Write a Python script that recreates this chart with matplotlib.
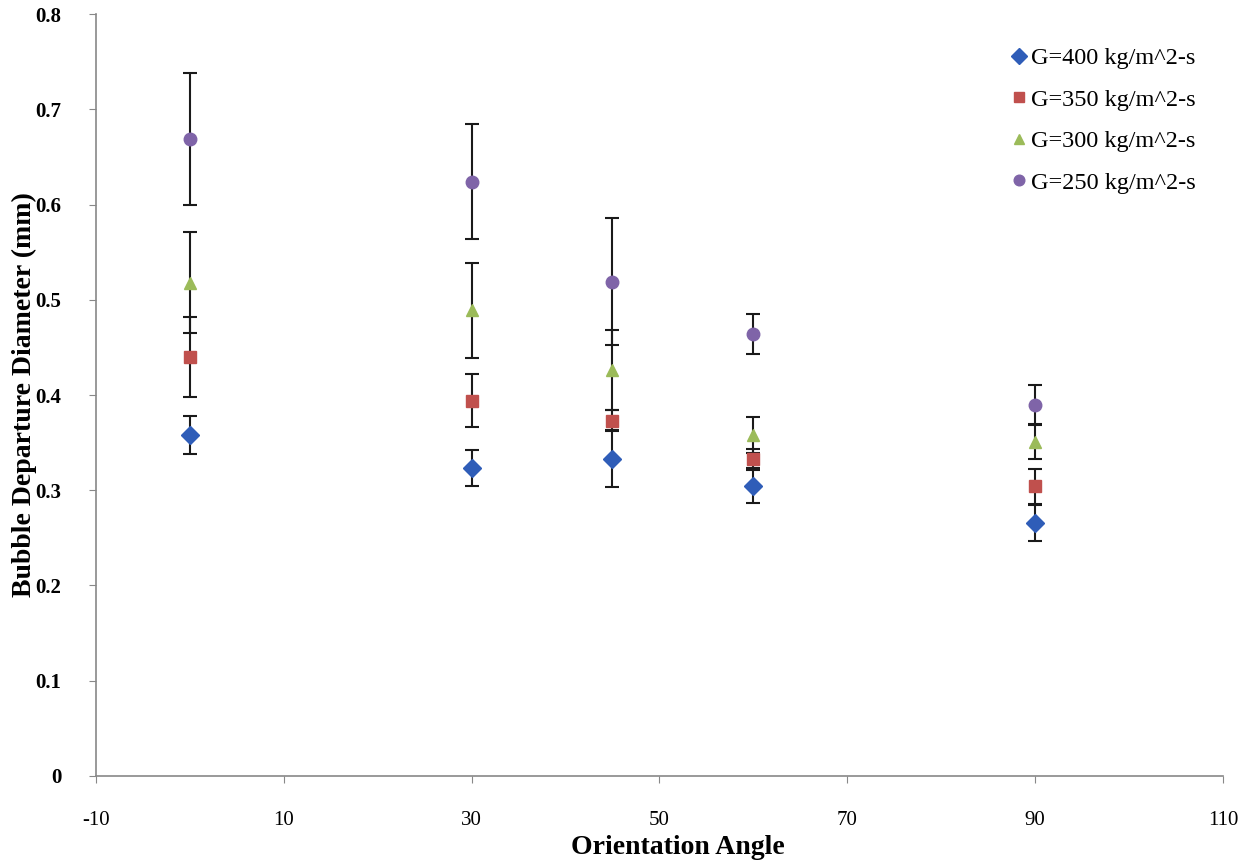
import numpy as np
import matplotlib.pyplot as plt
from matplotlib.lines import Line2D

angles = [0, 30, 45, 60, 90]

labels = ["G=400 kg/m^2-s", "G=350 kg/m^2-s", "G=300 kg/m^2-s", "G=250 kg/m^2-s"]

d400 = [0.358, 0.323, 0.333, 0.304, 0.266]
e400 = [0.020, 0.019, 0.030, 0.017, 0.019]

d350 = [0.440, 0.394, 0.373, 0.333, 0.304]
e350 = [0.042, 0.028, 0.011, 0.010, 0.018]

d300 = [0.518, 0.489, 0.426, 0.358, 0.351]
e300 = [0.053, 0.050, 0.042, 0.019, 0.018]

d250 = [0.669, 0.624, 0.519, 0.464, 0.390]
e250 = [0.069, 0.060, 0.067, 0.021, 0.020]

series = [(d400, e400, "D", "#2F5DB8", 9),
          (d350, e350, "s", "#C0504D", 8.5),
          (d300, e300, "^", "#9BBB59", 9),
          (d250, e250, "o", "#7F64A8", 9)]

plt.rcParams['font.family'] = ['Liberation Serif', 'DejaVu Serif']
plt.rcParams['axes.unicode_minus'] = False

fig = plt.figure(figsize=(12.46, 8.65), dpi=100)
ax = fig.add_axes([0.077, 0.1029, 0.9045, 0.8809])

handles = []
for (vals, errs, mk, col, ms), lab in zip(series, labels):
    ax.errorbar(angles, vals, yerr=errs, fmt=mk, color=col, markersize=ms,
                ecolor="#1a1a1a", elinewidth=1.5, capsize=5, capthick=1.5,
                zorder=3)
    handles.append(Line2D([], [], linestyle="none", marker=mk, color=col,
                          markersize=ms * 0.85, label=lab))

ax.set_xlim(-10, 110)
ax.set_ylim(0, 0.8)
ax.set_xticks(np.arange(-10, 111, 20))
ax.set_yticks(np.arange(0, 0.81, 0.1))
ax.set_yticklabels(["0"] + [f"{v:.1f}" for v in np.arange(0.1, 0.81, 0.1)])

for s in ["top", "right"]:
    ax.spines[s].set_visible(False)
for s in ["left", "bottom"]:
    ax.spines[s].set_color("#888888")
    ax.spines[s].set_linewidth(1.2)

ax.tick_params(axis="both", colors="#888888", labelcolor="black", labelsize=15,
               length=5, direction="out")
for t in ax.get_yticklabels():
    t.set_fontweight("bold")
ax.tick_params(axis="x", pad=20)
ax.tick_params(axis="y", pad=20)

ax.set_xlabel("Orientation Angle", fontsize=20, fontweight="bold")
ax.xaxis.set_label_coords(0.516, -0.077)
ax.set_ylabel("Bubble Departure Diameter (mm)", fontsize=20, fontweight="bold")
ax.yaxis.set_label_coords(-0.052, 0.5)

ax.legend(handles=handles, loc="upper right", frameon=False, fontsize=17.5,
          handletextpad=0.0, handlelength=1.0, labelspacing=0.8,
          bbox_to_anchor=(0.995, 0.985))

fig.savefig("out.png", dpi=100)
